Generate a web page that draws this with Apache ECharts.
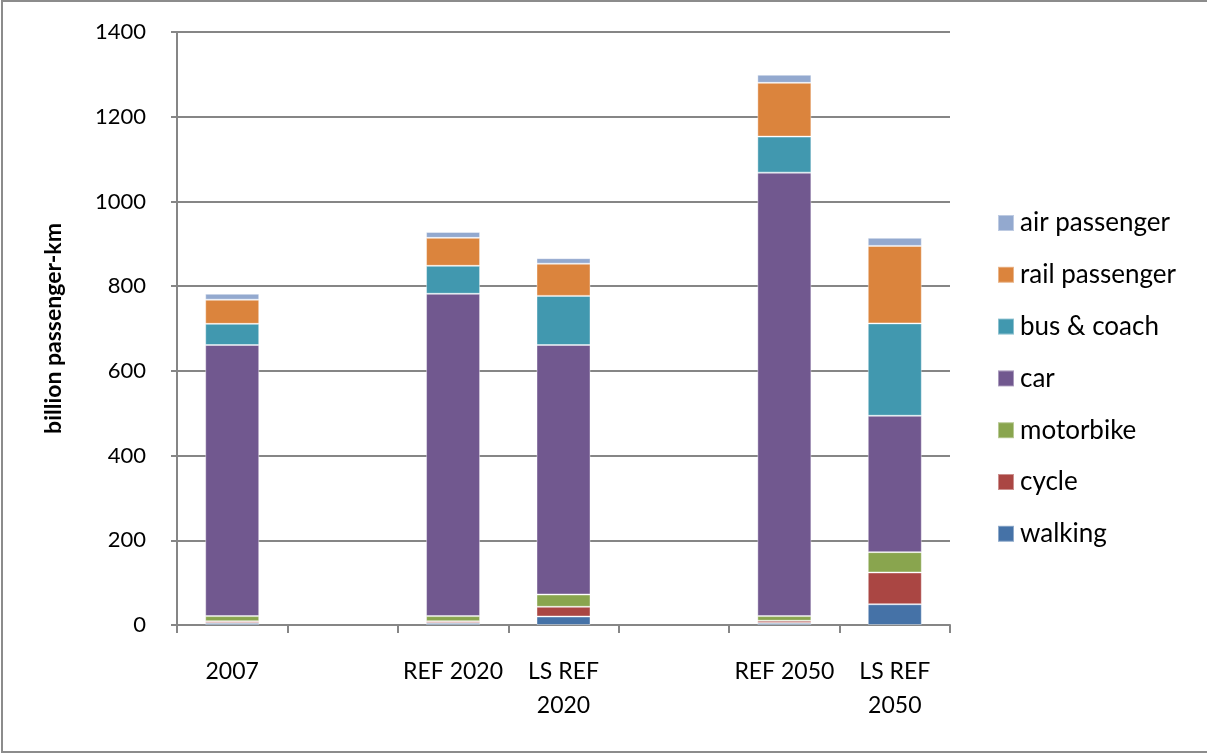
<!DOCTYPE html>
<html>
<head>
<meta charset="utf-8">
<script src="https://cdn.jsdelivr.net/npm/echarts@6/dist/echarts.min.js"></script>
<style>
  html, body { margin: 0; padding: 0; background: #fff; }
  #chart { width: 1207px; height: 754px; }
</style>
</head>
<body>
<div id="chart"></div>
<script>
// Scenario columns (empty strings leave gaps between the groups)
const categories = ['2007', '', 'REF 2020', 'LS REF\n2020', '', 'REF 2050', 'LS REF\n2050'];

// Passenger travel by mode, billion passenger-km
const walking      = [5,   null, 5,   20,  null, 5,    49];
const cycle        = [4,   null, 4,   23,  null, 5,    75];
const motorbike    = [12,  null, 12,  29,  null, 11,   48];
const car          = [640, null, 761, 589, null, 1047, 322];
const busCoach     = [50,  null, 66,  116, null, 85,   218];
const railPassenger= [57,  null, 66,  76,  null, 127,  183];
const airPassenger = [14,  null, 14,  13,  null, 19,   19];

const yTicks = { min: 0, max: 1400, interval: 200 };

const seriesDefs = [
  { name: 'walking',        data: walking,       color: '#4572A7' },
  { name: 'cycle',          data: cycle,         color: '#AA4643' },
  { name: 'motorbike',      data: motorbike,     color: '#89A54E' },
  { name: 'car',            data: car,           color: '#71588F' },
  { name: 'bus & coach',    data: busCoach,      color: '#4198AF' },
  { name: 'rail passenger', data: railPassenger, color: '#DB843D' },
  { name: 'air passenger',  data: airPassenger,  color: '#93A9CF' }
];

const FONT = 'Lato, "Open Sans", sans-serif';
const chart = echarts.init(document.getElementById('chart'));

chart.setOption({
  animation: false,
  backgroundColor: '#fff',
  grid: { left: 177, right: 257, top: 32, bottom: 129 },
  legend: {
    orient: 'vertical',
    left: 992,
    top: 205,
    itemWidth: 16,
    itemHeight: 16,
    itemGap: 25.8,
    icon: 'rect',
    data: seriesDefs.map(s => s.name).reverse(),
    textStyle: { fontFamily: FONT, fontSize: 26, color: '#000', padding: [0, 0, 0, 1] }
  },
  xAxis: {
    type: 'category',
    data: categories,
    boundaryGap: true,
    axisLine: { lineStyle: { color: '#868686', width: 2 } },
    axisTick: { show: true, interval: 0, length: 8, lineStyle: { color: '#868686', width: 2 } },
    axisLabel: {
      interval: 0, margin: 30, color: '#000',
      fontFamily: FONT, fontSize: 23, lineHeight: 34
    }
  },
  yAxis: {
    type: 'value',
    min: yTicks.min, max: yTicks.max, interval: yTicks.interval,
    name: 'billion passenger-km',
    nameLocation: 'middle',
    nameRotate: 90,
    nameGap: 112,
    nameTextStyle: { fontFamily: FONT, fontSize: 23, fontWeight: 'bold', color: '#000' },
    axisLine: { show: true, lineStyle: { color: '#868686', width: 2 } },
    axisTick: { show: true, length: 6, lineStyle: { color: '#868686', width: 2 } },
    axisLabel: {
      margin: 31, color: '#000', fontFamily: FONT, fontSize: 22,
      formatter: v => String(v)
    },
    splitLine: { lineStyle: { color: '#868686', width: 2 } }
  },
  series: seriesDefs.map(s => ({
    name: s.name,
    type: 'bar',
    stack: 'total',
    barWidth: 54,
    data: s.data,
    itemStyle: { color: s.color, borderColor: 'rgba(255,255,255,0.4)', borderWidth: 1 }
  })),
  graphic: [{
    type: 'rect',
    shape: { x: 2, y: 1, width: 1210, height: 751 },
    style: { fill: 'none', stroke: '#8c8c8c', lineWidth: 2 },
    silent: true
  }]
});
</script>
</body>
</html>
